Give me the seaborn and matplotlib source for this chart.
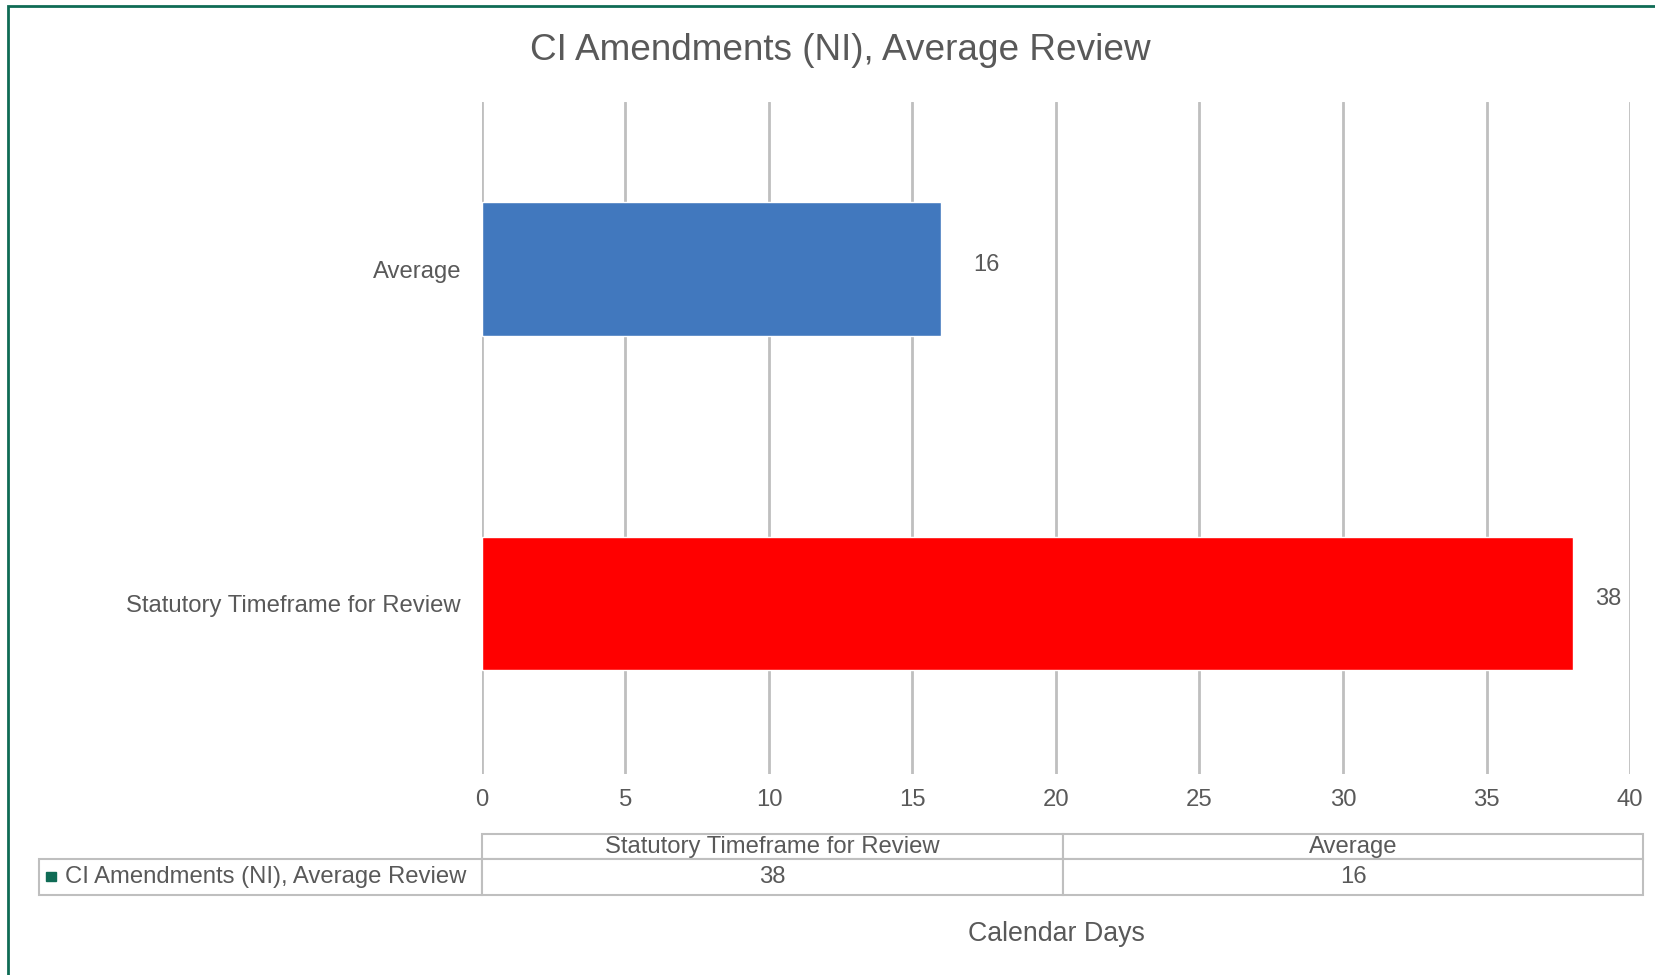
import matplotlib
matplotlib.use('Agg')
from matplotlib import pyplot as plt
from matplotlib.patches import Rectangle
import pandas as pd
import seaborn as sns

# chart data
categories = ['Average', 'Statutory Timeframe for Review']
days = [16, 38]
bar_colors = ['#4178BE', '#FF0000']
series_name = 'CI Amendments (NI), Average Review'
table_columns = ['Statutory Timeframe for Review', 'Average']
table_values = [38, 16]
x_ticks = [0, 5, 10, 15, 20, 25, 30, 35, 40]

TEXT = '#595959'
GRID = '#BFBFBF'
GREEN = '#0F6B55'

sns.set_theme(style='white')
plt.rcParams['font.family'] = ['Liberation Sans', 'DejaVu Sans']

fig = plt.figure(figsize=(16.55, 9.75), dpi=100)
ax = fig.add_axes([0.2912, 0.2062, 0.6937, 0.6892])

df = pd.DataFrame({'category': categories, 'days': days})
sns.barplot(
    data=df, x='days', y='category', hue='category', palette=bar_colors,
    width=0.4, saturation=1, legend=False, ax=ax
)

# value labels sit a little above the bar centre, as in Excel
label_pads = [23, 16]
for container, pad in zip(ax.containers, label_pads):
    for ann in ax.bar_label(container, padding=pad, fontsize=17, color=TEXT):
        ann.xyann = (pad, 3)

ax.set_xlim(0, 40)
ax.set_ylim(1.51, -0.5)
ax.set_xticks(x_ticks)
ax.grid(axis='x', color=GRID, linewidth=2)
ax.grid(axis='y', visible=False)
ax.set_axisbelow(True)
for s in ax.spines.values():
    s.set_visible(False)
ax.tick_params(axis='both', length=0, labelsize=17.2, labelcolor=TEXT)
ax.tick_params(axis='x', pad=11)
ax.tick_params(axis='y', pad=15)
ax.set_ylabel('')
ax.set_xlabel('Calendar Days', fontsize=19.3, color=TEXT, va='center')
ax.xaxis.set_label_coords(0.5, -0.238)

fig.text(0.508, 0.948, series_name, ha='center', va='center',
         fontsize=26.6, color=TEXT)

# data table under the axis (first column holds the series name)
rows = [[''] + table_columns,
        [series_name] + [str(v) for v in table_values]]
tbl = ax.table(
    cellText=rows, cellLoc='center',
    colWidths=[0.2762, 0.3622, 0.3616],
    bbox=[-0.3859, -0.1801, 1.3972, 0.0908],
)
tbl.auto_set_font_size(False)
for (r, c), cell in tbl.get_celld().items():
    cell.set_edgecolor(GRID)
    cell.set_linewidth(1.5)
    cell.set_height(0.024 if r == 0 else 0.034)
    cell.get_text().set_color(TEXT)
    cell.get_text().set_fontsize(17.2)
    if r == 0 and c == 0:
        cell.set_edgecolor('none')
    if r == 1 and c == 0:
        cell.get_text().set_ha('left')
        cell._loc = 'left'
        cell.PAD = 0.058

fig.patches.append(Rectangle((46 / 1655, 1 - 881 / 975), 10 / 1655, 9 / 975,
                             transform=fig.transFigure, color=GREEN))

# outer frame
fig.patches.append(Rectangle((8 / 1655, -0.1), 1.2, 1.1 - 6 / 975,
                             transform=fig.transFigure, fill=False,
                             edgecolor=GREEN, linewidth=2))

fig.savefig('out.png', dpi=100)
